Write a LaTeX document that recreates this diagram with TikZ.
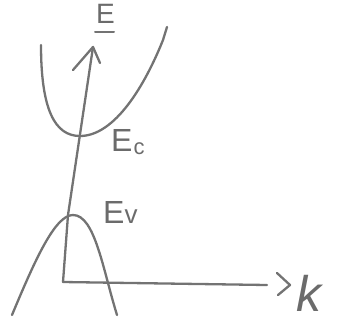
\documentclass[tikz,border=0pt]{standalone}
\usepackage{fontspec}
\setmainfont{Liberation Sans}
\begin{document}
\begin{tikzpicture}[x=1pt,y=-1pt,
  pen/.style={draw=black!55, line width=2.3pt, line cap=round, line join=round},
  lbl/.style={text=black!58, inner sep=0pt}]
\useasboundingbox (0,0) rectangle (345,325);
% axes
\coordinate (O) at (63,282);
\coordinate (Ebend) at (68,215);
\coordinate (Etip) at (93,47);
\coordinate (Ktip) at (267,285);
\draw[pen] (O) -- (Ebend) -- (Etip);
\draw[pen] (O) -- (Ktip);
% open arrowheads
\coordinate (Ea) at (73,70);
\coordinate (Eb) at (100,63);
\draw[pen] (Ea) -- (Etip) -- (Eb);
\coordinate (Ka) at (277,273);
\coordinate (Kb) at (290,285);
\coordinate (Kc) at (278,295);
\draw[pen] (Ka) -- (Kb) -- (Kc);
% conduction band
\coordinate (c1) at (41,45);
\coordinate (cmin) at (80,136);
\coordinate (c2) at (163,40);
\coordinate (c3) at (167,27);
\draw[pen] (c1) .. controls (41,110) and (55,136) .. (cmin)
  .. controls (115,136) and (145,85) .. (c2) -- (c3);
% valence band
\coordinate (v1) at (12,315);
\coordinate (vmax) at (73,215);
\coordinate (v2) at (117,315);
\draw[pen] (v1) .. controls (35,260) and (55,215) .. (vmax)
  .. controls (95,215) and (103,270) .. (v2);
% labels
\node[lbl, font=\fontsize{28}{28}\selectfont, anchor=base west] (E) at (96,23) {E};
\coordinate (Ul) at (95,32);
\coordinate (Ur) at (114,32);
\draw[pen, line width=2pt] (Ul) -- (Ur);
\node[lbl, font=\fontsize{32}{32}\selectfont, anchor=base west] (Ec) at (111,151) {E\hspace{1pt}\raisebox{-3pt}{\fontsize{22}{22}\selectfont c}};
\node[lbl, font=\fontsize{32}{32}\selectfont, anchor=base west] (Ev) at (103,223) {E\fontsize{26}{26}\selectfont v};
\node[lbl, font=\fontsize{50}{50}\selectfont\itshape, anchor=base west] (k) at (296,311) {k};
\end{tikzpicture}
\end{document}
